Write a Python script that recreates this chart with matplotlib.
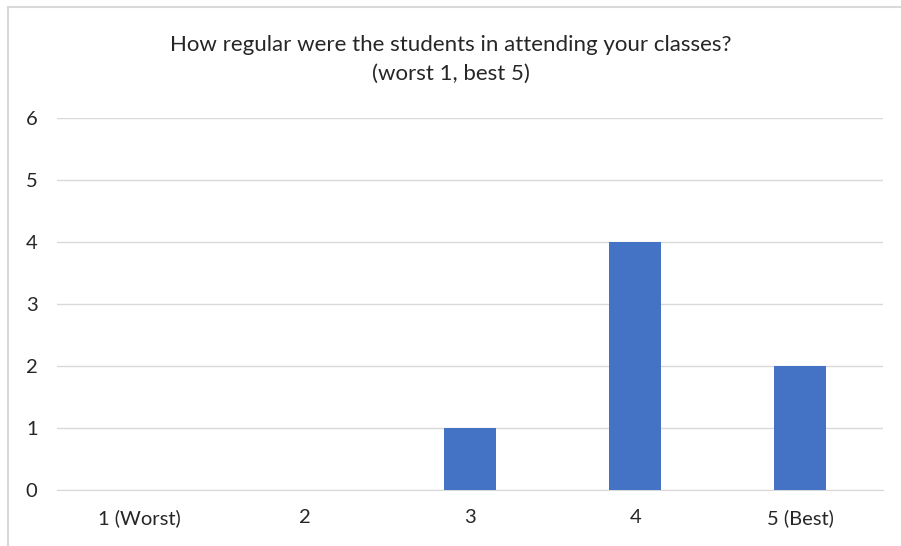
import matplotlib.pyplot as plt
from matplotlib.patches import Rectangle

categories = ['1 (Worst)', '2', '3', '4', '5 (Best)']
counts = [0, 0, 1, 4, 2]

plt.rcParams['font.family'] = ['Lato', 'DejaVu Sans']

fig = plt.figure(figsize=(9.01, 5.46), dpi=100)
ax = fig.add_axes([57 / 901, 1 - 490 / 546, (883 - 57) / 901, (490 - 118) / 546])

ax.bar(range(len(categories)), counts, width=0.315, color='#4472C4', zorder=3)
ax.set_xlim(-0.5, len(categories) - 0.5)
ax.set_ylim(0, 6)
ax.set_yticks(range(0, 7))
ax.set_xticks(range(len(categories)))
ax.set_xticklabels(categories)
ax.grid(axis='y', color='#d9d9d9', linewidth=1, zorder=0)
for s in ['top', 'right', 'left']:
    ax.spines[s].set_visible(False)
ax.spines['bottom'].set_color('#d9d9d9')
ax.tick_params(length=0, labelsize=14.5, colors='#262626')
ax.tick_params(axis='y', pad=14)
ax.tick_params(axis='x', pad=14)

fig.text(0.5, 1 - 45 / 546, 'How regular were the students in attending your classes?',
         ha='center', va='center', fontsize=16, color='#262626')
fig.text(0.5, 1 - 74 / 546, '(worst 1, best 5)',
         ha='center', va='center', fontsize=16, color='#262626')

# chart frame
fig.patches.append(Rectangle((8 / 901, -0.1), 1.2, 1 - 7 / 546 + 0.1,
                             transform=fig.transFigure, fill=False,
                             edgecolor='#d9d9d9', linewidth=1.5))

fig.savefig('out.png', dpi=100)
